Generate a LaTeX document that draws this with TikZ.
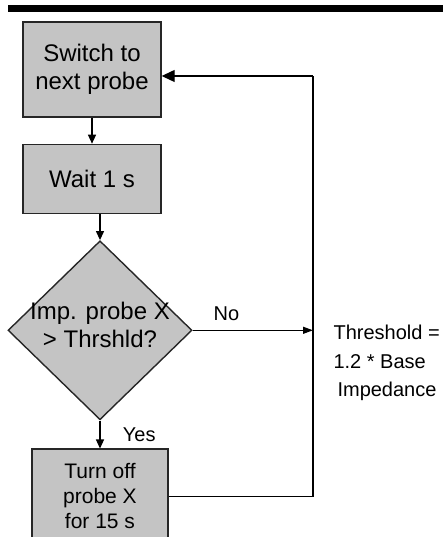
\documentclass[tikz,border=0pt]{standalone}
\usepackage{fontspec}
\setmainfont{Liberation Sans}
\usetikzlibrary{shapes.geometric,arrows.meta,positioning}

\begin{document}
\begin{tikzpicture}[x=1pt, y=1pt, node distance = 26pt, auto,
  box/.style={draw=black!85, line width=1.4pt, fill=black!23, align=center,
    font=\fontsize{24}{28}\selectfont, minimum width=138pt},
  test/.style={diamond, draw=black!85, line width=1.4pt, fill=black!23,
    minimum width=184pt, minimum height=179pt, inner sep=0pt},
  lbl/.style={font=\fontsize{20}{28.5}\selectfont, align=left},
  arr/.style={-{Triangle[length=9pt, width=8pt]}, line width=1.2pt},
  bigarr/.style={-{Triangle[length=13pt, width=12pt]}, line width=1.2pt},
  line/.style={line width=1.2pt}]
\clip (0,0) rectangle (443,537);
\fill (8,525) rectangle (443,532);

\node (sw) [box, minimum height=95pt] at (92,467.5) {Switch to\\next probe};
\node (wait) [box, minimum height=69pt, below=of sw] {Wait 1 s};
\node (imp) [test, below=of wait, xshift=8pt,
  label={[font=\fontsize{24}{28}\selectfont, align=center, yshift=5pt]center:Imp. probe X\\> Thrshld?}] {};
\node (off) [box, font=\fontsize{21}{25}\selectfont, minimum width=136pt,
  minimum height=94pt, below=28pt of imp] {Turn off\\probe X\\for 15 s};
\node (thr) [lbl, anchor=west] at (330,174) {Threshold =\\1.2 * Base\\\hspace{4pt}Impedance};

\coordinate (ret) at (313,461);

\path [arr] (sw) edge (wait);
\path [arr] (wait.south -| imp.north) edge (imp.north);
\path [arr] (imp) edge node [lbl, right=19pt, pos=.5] {Yes} (off);
\path [{}-{Triangle[length=10pt, width=7pt]}, line width=1.2pt] (imp.east) edge node [lbl, above=6pt, pos=.28] {No} (imp.east -| ret);
\draw [line] (off.east) -| (ret);
\path [bigarr] (ret) edge (ret -| sw.east);
\end{tikzpicture}
\end{document}
